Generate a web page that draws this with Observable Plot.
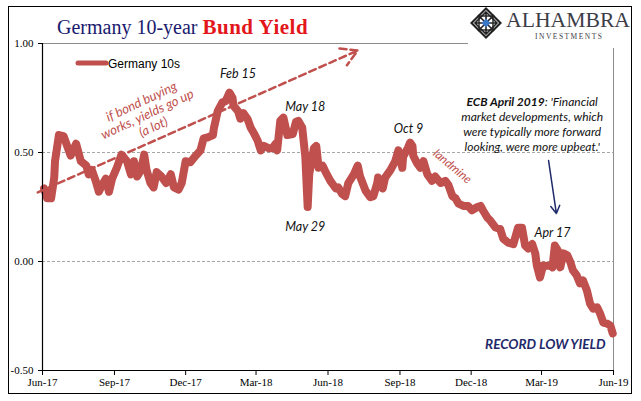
<!DOCTYPE html>
<html>
<head>
<meta charset="utf-8">
<script src="https://cdn.jsdelivr.net/npm/d3@7"></script>
<script src="https://cdn.jsdelivr.net/npm/@observablehq/plot@0.6"></script>
<style>
  html, body { margin: 0; padding: 0; background: #fff; }
  #chart { width: 641px; height: 401px; }
</style>
</head>
<body>
<div id="chart"></div>
<script>
// ---- data ----
const dates = [
  "2017-06-03","2017-06-07","2017-06-12","2017-06-16","2017-06-17","2017-06-22","2017-06-28","2017-07-01","2017-07-07","2017-07-14",
  "2017-07-20","2017-07-27","2017-07-30","2017-08-03","2017-08-08","2017-08-12","2017-08-16","2017-08-21","2017-08-25","2017-08-29",
  "2017-09-04","2017-09-10","2017-09-17","2017-09-22","2017-09-26","2017-09-30","2017-10-05","2017-10-09","2017-10-12","2017-10-17",
  "2017-10-21","2017-10-25","2017-10-31","2017-11-06","2017-11-12","2017-11-16","2017-11-22","2017-11-26","2017-12-01","2017-12-07",
  "2017-12-14","2017-12-20","2017-12-24","2017-12-30","2018-01-05","2018-01-06","2018-01-11","2018-01-17","2018-01-21","2018-01-26",
  "2018-01-30","2018-01-31","2018-02-06","2018-02-09","2018-02-13","2018-02-18","2018-02-22","2018-02-26","2018-03-03","2018-03-07",
  "2018-03-11","2018-03-17","2018-03-22","2018-03-26","2018-03-28","2018-04-01","2018-04-05","2018-04-10","2018-04-17","2018-04-21",
  "2018-04-24","2018-04-29","2018-05-03","2018-05-06","2018-05-08","2018-05-14","2018-05-17","2018-05-20","2018-05-25","2018-05-29",
  "2018-06-04","2018-06-11","2018-06-14","2018-06-19","2018-06-23","2018-06-27","2018-07-04","2018-07-09","2018-07-12","2018-07-19",
  "2018-07-25","2018-07-29","2018-08-03","2018-08-04","2018-08-10","2018-08-13","2018-08-20","2018-08-26","2018-08-30","2018-09-04",
  "2018-09-05","2018-09-11","2018-09-14","2018-09-17","2018-09-18","2018-09-23","2018-09-27","2018-10-01","2018-10-06","2018-10-12",
  "2018-10-16","2018-10-23","2018-10-29","2018-11-02","2018-11-07","2018-11-11","2018-11-15","2018-11-21","2018-11-27","2018-12-02",
  "2018-12-09","2018-12-13","2018-12-16","2018-12-22","2018-12-25","2019-01-01","2019-01-07","2019-01-11","2019-01-17","2019-01-24",
  "2019-01-30","2019-02-04","2019-02-08","2019-02-12","2019-02-17","2019-02-21","2019-02-23","2019-02-27","2019-03-03","2019-03-08",
  "2019-03-12","2019-03-15","2019-03-18","2019-03-22","2019-03-25","2019-03-29","2019-04-03","2019-04-07","2019-04-10","2019-04-15",
  "2019-04-19","2019-04-23","2019-04-28","2019-05-02","2019-05-06","2019-05-11","2019-05-15","2019-05-19","2019-05-24","2019-05-28",
  "2019-05-31"
];
const yields = [
  0.335,0.29,0.29,0.385,0.46,0.58,0.575,0.545,0.486,0.54,
  0.46,0.44,0.40,0.42,0.37,0.32,0.35,0.38,0.32,0.38,
  0.43,0.49,0.46,0.40,0.46,0.39,0.42,0.49,0.42,0.36,
  0.34,0.41,0.39,0.36,0.40,0.34,0.33,0.36,0.46,0.455,
  0.486,0.51,0.565,0.57,0.58,0.61,0.69,0.73,0.735,0.775,
  0.75,0.715,0.69,0.655,0.68,0.655,0.615,0.59,0.555,0.51,
  0.53,0.52,0.52,0.54,0.51,0.645,0.66,0.58,0.585,0.64,
  0.645,0.615,0.48,0.25,0.40,0.52,0.53,0.43,0.44,0.41,
  0.37,0.335,0.34,0.31,0.30,0.36,0.40,0.44,0.39,0.325,
  0.295,0.30,0.36,0.385,0.335,0.385,0.42,0.46,0.51,0.43,
  0.48,0.52,0.545,0.53,0.485,0.45,0.43,0.46,0.40,0.37,
  0.39,0.36,0.37,0.35,0.30,0.29,0.265,0.255,0.255,0.235,
  0.25,0.255,0.235,0.20,0.19,0.156,0.15,0.105,0.087,0.08,
  0.155,0.155,0.073,0.06,0.08,0.037,-0.018,-0.073,-0.018,-0.02,
  -0.018,-0.027,0.073,0.05,-0.027,0.037,0.028,-0.004,-0.04,-0.064,
  -0.10,-0.087,-0.133,-0.193,-0.216,-0.21,-0.24,-0.28,-0.285,-0.294,
  -0.33
];
const seriesName = "Germany 10s";
const xDomain = ["2017-06-01", "2019-06-01"];
const xTickDates = ["2017-06-01","2017-09-01","2017-12-01","2018-03-01","2018-06-01","2018-09-01","2018-12-01","2019-03-01","2019-06-01"];
const xTickLabels = ["Jun-17","Sep-17","Dec-17","Mar-18","Jun-18","Sep-18","Dec-18","Mar-19","Jun-19"];
const yTicks = [-0.5, 0, 0.5, 1];
const yTickLabels = ["-0.50", "0.00", "0.50", "1.00"];
const gridValues = [0.5, 0];

// annotations
const noteLabels = ["Feb 15", "May 18", "May 29", "Oct 9", "Apr 17"];
const noteDates = ["2018-02-06", "2018-05-03", "2018-05-03", "2018-09-12", "2019-03-15"];
const noteValues = [0.862, 0.711, 0.156, 0.61, 0.133];
const hopeText = "if bond buying\nworks, yields go up\n(a lot)";
const hopeAt = ["2017-10-13", 0.676];
const hopeArrow = ["2017-05-26", 0.317, "2018-07-09", 0.968];
const mineText = "landmine";
const mineAt = ["2018-11-07", 0.436];
const ecbLines = ["ECB April 2019: 'Financial", "market developments, which", "were typically more forward", "looking, were more upbeat.'"];
const ecbBold = "ECB April 2019";
const ecbAt = ["2019-02-17", 0.631];
const ecbArrow = ["2019-03-10", 0.463, "2019-03-20", 0.22];
const recordText = "RECORD LOW YIELD";
const recordAt = ["2019-05-22", -0.381];

const RED = "#C0504D";
const NAVY = "#1F2A6B";

const data = dates.map((d, i) => ({date: new Date(d), value: yields[i]}));
const xMin = new Date(xDomain[0]), xMax = new Date(xDomain[1]);
const xTickTimes = xTickDates.map(d => +new Date(d));

const chart = Plot.plot({
  width: 641,
  height: 401,
  marginLeft: 42,
  marginRight: 28,
  marginTop: 43,
  marginBottom: 31,
  style: {fontFamily: "'Liberation Serif', 'Times New Roman', serif", fontSize: "11px", color: "#000", background: "#fff", overflow: "visible"},
  x: {type: "utc", domain: [xMin, xMax], label: null},
  y: {domain: [yTicks[0], yTicks[yTicks.length - 1]], label: null},
  marks: [
    Plot.ruleY(gridValues, {stroke: "#a6a6a6", strokeDasharray: "3,2", strokeWidth: 1}),
    Plot.ruleY([yTicks[yTicks.length - 1]], {stroke: "#8c8c8c", strokeWidth: 1}),
    Plot.ruleX([xMax], {stroke: "#8c8c8c", strokeWidth: 1}),
    Plot.line(data, {x: "date", y: "value", stroke: RED, strokeWidth: 8, strokeLinejoin: "round", strokeLinecap: "round"}),
    Plot.axisY({ticks: yTicks, tickFormat: d => yTickLabels[yTicks.indexOf(d)], tickSize: 4, tickPadding: 5, label: null}),
    Plot.axisX({ticks: xTickDates.map(d => new Date(d)), tickFormat: d => xTickLabels[xTickTimes.indexOf(+d)], tickSize: 5, tickPadding: 3, label: null}),
    Plot.ruleX([xMin], {stroke: "#000", strokeWidth: 1.2}),
    Plot.ruleY([yTicks[0]], {stroke: "#000", strokeWidth: 1.2}),
    // dashed trend arrow
    Plot.arrow([hopeArrow], {x1: d => new Date(d[0]), y1: d => d[1], x2: d => new Date(d[2]), y2: d => d[3],
      stroke: RED, strokeWidth: 2.5, strokeDasharray: "7,4", headLength: 11}),
    Plot.text([hopeText], {x: () => new Date(hopeAt[0]), y: () => hopeAt[1], text: d => d, rotate: -25, lineHeight: 1.08,
      fontFamily: "Lato, 'Open Sans', sans-serif", fontStyle: "italic", fontSize: 13, fill: RED}),
    Plot.text([mineText], {x: () => new Date(mineAt[0]), y: () => mineAt[1], text: d => d, rotate: 40,
      fontFamily: "Lato, 'Open Sans', sans-serif", fontStyle: "italic", fontSize: 12, fill: RED}),
    Plot.text(noteLabels, {x: (d, i) => new Date(noteDates[i]), y: (d, i) => noteValues[i], text: d => d,
      fontFamily: "Lato, 'Open Sans', sans-serif", fontStyle: "italic", fontSize: 12.5, fill: "#111"}),
    Plot.text([ecbLines.join("\n")], {x: () => new Date(ecbAt[0]), y: () => ecbAt[1], text: d => d, lineHeight: 1.25,
      fontFamily: "Lato, 'Open Sans', sans-serif", fontStyle: "italic", fontSize: 12, fill: "#111"}),
    Plot.arrow([ecbArrow], {x1: d => new Date(d[0]), y1: d => d[1], x2: d => new Date(d[2]), y2: d => d[3],
      stroke: NAVY, strokeWidth: 1.5, headLength: 9}),
    Plot.text([recordText], {x: () => new Date(recordAt[0]), y: () => recordAt[1], text: d => d, textAnchor: "end",
      fontFamily: "Lato, 'Open Sans', sans-serif", fontStyle: "italic", fontWeight: "bold", fontSize: 13.5, fill: NAVY})
  ]
});

// bold first words of the ECB quote
d3.select(chart).selectAll("tspan").filter(function() { return this.textContent === ecbLines[0]; })
  .each(function() {
    const t = d3.select(this);
    const rest = ecbLines[0].slice(ecbBold.length);
    t.text("");
    t.append("tspan").attr("font-weight", "bold").text(ecbBold);
    t.append("tspan").text(rest);
  });

const svg = d3.select(chart);
// title
const title = svg.append("text").attr("x", 57).attr("y", 34).attr("text-anchor", "start")
  .attr("font-family", "'Liberation Serif', 'Times New Roman', serif");
title.append("tspan").attr("fill", "#1A1A6E").attr("font-size", 20).text("Germany 10-year ");
title.append("tspan").attr("fill", "#E3161B").attr("font-size", 21).attr("font-weight", "bold").attr("letter-spacing", 0.5).text("Bund Yield");

// legend
svg.append("line").attr("x1", 78).attr("x2", 106).attr("y1", 63).attr("y2", 63)
  .attr("stroke", RED).attr("stroke-width", 5).attr("stroke-linecap", "round");
svg.append("text").attr("x", 108).attr("y", 67.5).attr("text-anchor", "start").attr("font-family", "'Liberation Sans', Arial, sans-serif")
  .attr("font-size", 12).attr("fill", "#000").text(seriesName);

// logo
const logo = svg.append("g").attr("transform", "translate(468,7)");
logo.append("rect").attr("width", 162).attr("height", 41).attr("fill", "#fff");
const dia = logo.append("g").attr("transform", "translate(18,16)");
dia.append("path").attr("d", "M0,-16 L16,0 L0,16 L-16,0 Z").attr("fill", "#222");
dia.append("path").attr("d", "M0,-13 L13,0 L0,13 L-13,0 Z").attr("fill", "#fff");
dia.append("path").attr("d", "M0,-11 L11,0 L0,11 L-11,0 Z M-8,-8 L8,8 M8,-8 L-8,8 M-11,0 L11,0 M0,-11 L0,11")
  .attr("fill", "none").attr("stroke", "#222").attr("stroke-width", 1.6);
dia.append("rect").attr("x", -7).attr("y", -7).attr("width", 14).attr("height", 14).attr("fill", "none").attr("stroke", "#222").attr("stroke-width", 1.4);
dia.append("path").attr("d", "M0,-4.5 L4.5,0 L0,4.5 L-4.5,0 Z").attr("fill", "#3C78C8");
logo.append("text").attr("x", 38).attr("y", 20).attr("text-anchor", "start").attr("font-family", "'Liberation Serif', serif").attr("font-size", 21)
  .attr("fill", "#3d3d48").attr("textLength", 124).attr("lengthAdjust", "spacingAndGlyphs").text("ALHAMBRA");
logo.append("text").attr("x", 67).attr("y", 32).attr("text-anchor", "start").attr("font-family", "'Liberation Serif', serif").attr("font-size", 7.5)
  .attr("fill", "#3d3d48").attr("textLength", 67).attr("lengthAdjust", "spacing").text("INVESTMENTS");

// outer border
svg.append("rect").attr("x", 8.5).attr("y", 6.5).attr("width", 623).attr("height", 387)
  .attr("fill", "none").attr("stroke", "#000").attr("stroke-width", 1);

document.getElementById("chart").appendChild(chart);
</script>
</body>
</html>
